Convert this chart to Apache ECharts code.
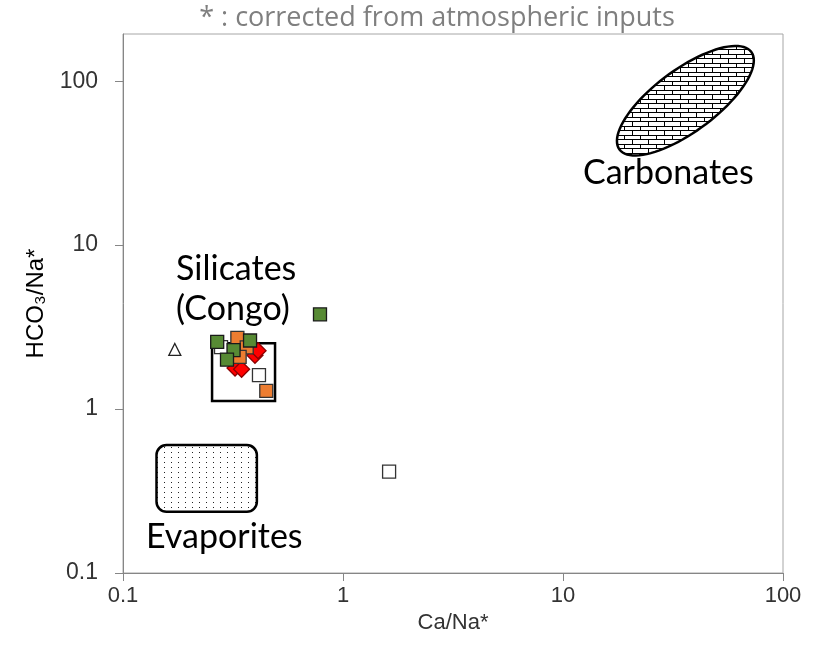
<!DOCTYPE html>
<html>
<head>
    <meta http-equiv="Content-Type" content="text/html; charset=utf-8" />
    <title>HCO3/Na* vs Ca/Na*</title>
    <script src="https://cdn.jsdelivr.net/npm/echarts@6/dist/echarts.min.js"></script>
</head>
<body style="margin:0;padding:0;background:#ffffff;">
    <div id="main" style="width:816px;height:666px;"></div>
    <script type="text/javascript">
        /*************************************************************
        * data
        *************************************************************/
        var xTicks = [0.1, 1, 10, 100];
        var yTicks = [0.1, 1, 10, 100];

        // [Ca/Na*, HCO3/Na*]
        var openSquares = [[0.279, 2.39], [0.415, 1.61], [1.62, 0.415]];
        var redDiamonds = [[0.323, 1.78], [0.346, 1.75], [0.398, 2.13], [0.411, 2.27]];
        var orangeSquares = [[0.331, 2.72], [0.365, 2.38], [0.339, 2.08], [0.448, 1.29]];
        var greenSquares = [[0.268, 2.57], [0.378, 2.62], [0.318, 2.29], [0.297, 2.00], [0.786, 3.78]];
        var openTriangles = [[0.172, 2.31]];

        // end-member fields: [xMin, yMin, xMax, yMax] / centre
        var silicatesBox = [[0.254, 1.12, 0.491, 2.52]];
        var evaporitesBox = [[0.142, 0.236, 0.406, 0.603]];
        var carbonatesCentre = [[36, 76]];

        /*************************************************************
        * fill patterns
        *************************************************************/
        function brickPattern() {
            var c = document.createElement('canvas');
            c.width = 16; c.height = 9;
            var g = c.getContext('2d');
            g.fillStyle = '#ffffff'; g.fillRect(0, 0, 16, 9);
            g.fillStyle = '#000000';
            g.fillRect(0, 0, 16, 1);
            g.fillRect(0, 4, 16, 1);
            g.fillRect(0, 0, 1, 4);
            g.fillRect(8, 4, 1, 5);
            return c;
        }
        function dotPattern() {
            var c = document.createElement('canvas');
            c.width = 7; c.height = 5;
            var g = c.getContext('2d');
            g.fillStyle = '#ffffff'; g.fillRect(0, 0, 7, 5);
            g.fillStyle = '#222222';
            g.fillRect(3, 2, 1, 1);
            return c;
        }
        var bricks = { image: brickPattern(), repeat: 'repeat' };
        var dots = { image: dotPattern(), repeat: 'repeat' };

        /*************************************************************
        * chart
        *************************************************************/
        var chart = echarts.init(document.getElementById('main'));
        var axisGray = '#868686';
        var labelFont = 'Liberation Sans';

        function boxRender(fill, radius) {
            return function (params, api) {
                var p1 = api.coord([api.value(0), api.value(3)]);
                var p2 = api.coord([api.value(2), api.value(1)]);
                return {
                    type: 'rect',
                    shape: { x: p1[0], y: p1[1], width: p2[0] - p1[0], height: p2[1] - p1[1], r: radius },
                    style: { fill: fill, stroke: '#000000', lineWidth: 2.5 }
                };
            };
        }

        function ellipseRender(params, api) {
            var c = api.coord([api.value(0), api.value(1)]);
            var a = 82, b = 31, th = 36.5 * Math.PI / 180;
            var pts = [];
            for (var i = 0; i < 90; i++) {
                var t = i / 90 * Math.PI * 2;
                pts.push([
                    c[0] + a * Math.cos(th) * Math.cos(t) - b * Math.sin(th) * Math.sin(t),
                    c[1] - (a * Math.sin(th) * Math.cos(t) + b * Math.cos(th) * Math.sin(t))
                ]);
            }
            return {
                type: 'polygon',
                shape: { points: pts },
                style: { fill: bricks, stroke: '#000000', lineWidth: 2.5 }
            };
        }

        function markers(name, data, symbol, size, fill, border, z) {
            return {
                name: name, type: 'scatter', data: data, symbol: symbol, symbolSize: size, z: z,
                itemStyle: { color: fill, borderColor: border, borderWidth: 1.3, opacity: 1 },
                emphasis: { disabled: true }
            };
        }

        var option = {
            backgroundColor: '#ffffff',
            animation: false,
            grid: {
                left: 123, right: 33, top: 34, bottom: 93,
                show: true, borderColor: '#a6a6a6', borderWidth: 1
            },
            xAxis: {
                type: 'log', logBase: 10, min: 0.1, max: 100,
                name: 'Ca/Na*', nameLocation: 'middle', nameGap: 32,
                nameTextStyle: { color: '#333333', fontSize: 22, fontFamily: labelFont },
                axisLine: { lineStyle: { color: axisGray } },
                axisTick: { show: true, length: 8, customValues: xTicks, lineStyle: { color: axisGray } },
                axisLabel: { customValues: xTicks, margin: 12, color: '#333333', fontSize: 22, fontFamily: labelFont,
                    formatter: function (v) { return String(v); } },
                splitLine: { show: false }
            },
            yAxis: {
                type: 'log', logBase: 10, min: 0.1, max: 194,
                name: 'HCO\u2083/Na*', nameLocation: 'middle', nameGap: 72, nameRotate: 90,
                nameTextStyle: { color: '#000000', fontSize: 24, fontFamily: labelFont },
                axisLine: { lineStyle: { color: axisGray } },
                axisTick: { show: true, length: 8, customValues: yTicks, lineStyle: { color: axisGray } },
                axisLabel: { customValues: yTicks, margin: 25, color: '#333333', fontSize: 23, fontFamily: labelFont,
                    formatter: function (v) { return String(v); } },
                splitLine: { show: false }
            },
            graphic: [
                { type: 'text', x: 437, y: 18, z: 100, style: { text: '* : corrected from atmospheric inputs', fill: '#7f7f7f',
                    font: '27px "Open Sans"', align: 'center', verticalAlign: 'middle' } },
                { type: 'text', x: 583, y: 173, z: 100, style: { text: 'Carbonates', fill: '#000000',
                    font: '34px Lato', align: 'left', verticalAlign: 'middle' } },
                { type: 'text', x: 176, y: 269, z: 100, style: { text: 'Silicates', fill: '#000000',
                    font: '34px Lato', align: 'left', verticalAlign: 'middle' } },
                { type: 'text', x: 176, y: 309, z: 100, style: { text: '(Congo)', fill: '#000000',
                    font: '34px Lato', align: 'left', verticalAlign: 'middle' } },
                { type: 'text', x: 146, y: 537, z: 100, style: { text: 'Evaporites', fill: '#000000',
                    font: '34px Lato', align: 'left', verticalAlign: 'middle' } }
            ],
            series: [
                { type: 'custom', name: 'Carbonates', data: carbonatesCentre, renderItem: ellipseRender, z: 1, silent: true },
                { type: 'custom', name: 'Evaporites', data: evaporitesBox, renderItem: boxRender(dots, 10), z: 1, silent: true,
                    encode: { x: [0, 2], y: [1, 3] } },
                { type: 'custom', name: 'Silicates', data: silicatesBox, renderItem: boxRender('transparent', 0), z: 1, silent: true,
                    encode: { x: [0, 2], y: [1, 3] } },
                markers('open squares', openSquares, 'rect', 13, '#ffffff', '#333333', 2),
                markers('red', redDiamonds, 'diamond', 16, '#ff0000', '#8b0000', 3),
                markers('orange', orangeSquares, 'rect', 13, '#ed7d31', '#333333', 4),
                markers('green', greenSquares, 'rect', 13, '#578a34', '#1a1a1a', 5),
                markers('triangle', openTriangles, 'triangle', 12, '#ffffff', '#222222', 6)
            ]
        };
        chart.setOption(option);
    </script>
</body>
</html>
